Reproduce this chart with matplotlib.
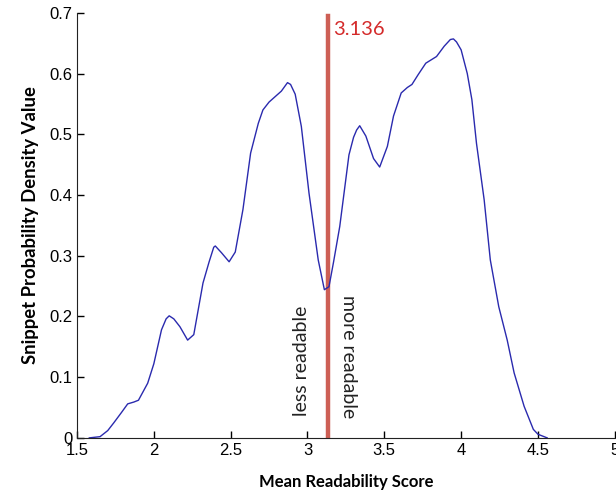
import matplotlib
matplotlib.use('Agg')
from matplotlib import pyplot as plt

# density curve
score = [1.58, 1.65, 1.70, 1.74, 1.79, 1.83, 1.87, 1.90, 1.96, 2.00,
         2.05, 2.08, 2.10, 2.13, 2.17, 2.22, 2.26, 2.32, 2.36, 2.39,
         2.40, 2.44, 2.49, 2.53, 2.58, 2.63, 2.68, 2.71, 2.75, 2.79,
         2.83, 2.87, 2.89, 2.92, 2.96, 3.01, 3.07, 3.11, 3.14, 3.17,
         3.21, 3.27, 3.30, 3.32, 3.34, 3.38, 3.43, 3.47, 3.52, 3.56,
         3.61, 3.65, 3.68, 3.72, 3.77, 3.84, 3.89, 3.93, 3.95, 3.97,
         4.00, 4.04, 4.07, 4.10, 4.15, 4.19, 4.245, 4.30, 4.345, 4.41,
         4.47, 4.50, 4.56]
density = [0.0, 0.002, 0.012, 0.025, 0.042, 0.056, 0.059, 0.062, 0.09, 0.122,
           0.178, 0.196, 0.201, 0.196, 0.183, 0.161, 0.17, 0.255, 0.29, 0.314,
           0.316, 0.305, 0.29, 0.306, 0.376, 0.469, 0.518, 0.54, 0.553, 0.562,
           0.571, 0.585, 0.582, 0.566, 0.513, 0.403, 0.293, 0.244, 0.249, 0.29,
           0.348, 0.466, 0.495, 0.507, 0.514, 0.497, 0.46, 0.446, 0.48, 0.53,
           0.568, 0.577, 0.582, 0.598, 0.617, 0.628, 0.645, 0.656, 0.657, 0.652,
           0.639, 0.60, 0.557, 0.485, 0.392, 0.293, 0.216, 0.161, 0.107, 0.052,
           0.014, 0.006, 0.0]
threshold = 3.136
line_top = 0.695
xticks = [1.5, 2, 2.5, 3, 3.5, 4, 4.5, 5]
yticks = [0, 0.1, 0.2, 0.3, 0.4, 0.5, 0.6, 0.7]

fig = plt.figure(figsize=(6.16, 4.92), dpi=100)
ax = fig.add_axes([0.125, 0.11, 0.873, 0.864])

ax.plot([threshold, threshold], [0, line_top], color='#cd5f55', lw=3.2, zorder=1)
ax.plot(score, density, color='#2a2aae', lw=1.0, zorder=2)

ax.text(threshold + 0.03, 0.672, '3.136', color='#d42a2a', fontsize=14.5,
        family='Lato', va='center', ha='left')
ax.text(2.96, 0.127, 'less readable', rotation=90, fontsize=14,
        family='Lato', color='#222222', ha='center', va='center')
ax.text(3.27, 0.133, 'more readable', rotation=270, fontsize=14,
        family='Lato', color='#222222', ha='center', va='center')

ax.set_xlim(1.5, 5)
ax.set_ylim(0, 0.7)
ax.set_xticks(xticks)
ax.set_xticklabels([f'{t:g}' for t in xticks])
ax.set_yticks(yticks)
ax.set_yticklabels([f'{t:g}' for t in yticks])
ax.tick_params(direction='in', length=5, width=1, labelsize=12)
ax.tick_params(axis='x', pad=4)
ax.tick_params(axis='y', pad=3)
for lab in ax.get_xticklabels() + ax.get_yticklabels():
    lab.set_family('Liberation Sans')
ax.spines['top'].set_visible(False)
ax.spines['right'].set_visible(False)
ax.spines['left'].set_color('#222222')
ax.spines['bottom'].set_color('#222222')

ax.set_xlabel('Mean Readability Score', fontsize=12, fontweight='bold',
              family='Lato', labelpad=11)
ax.set_ylabel('Snippet Probability Density Value', fontsize=13.3, fontweight='bold',
              family='Lato', labelpad=8)

fig.savefig('out.png', dpi=100)
